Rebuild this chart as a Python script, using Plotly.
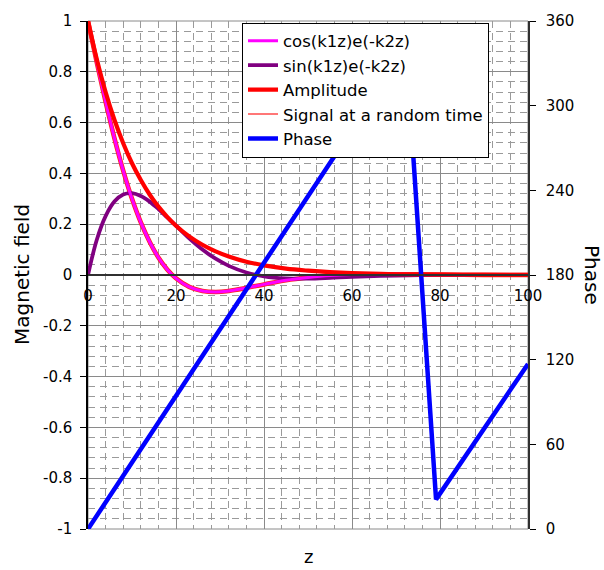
import plotly.graph_objects as go

# ---- data ----
z = [0, 2, 4, 6, 8, 10, 12, 14, 16, 18, 20, 23, 26, 29, 32, 36, 40, 45, 50, 55, 60, 70, 80, 90, 100]
cos_decay = [1.0, 0.837, 0.682, 0.539, 0.411, 0.300, 0.207, 0.131, 0.069, 0.022, -0.013, -0.047, -0.063,
             -0.067, -0.063, -0.051, -0.037, -0.021, -0.010, -0.002, 0.0015, 0.003, 0.0014, 0.0003, 0.0]
sin_decay = [0.0, 0.139, 0.232, 0.289, 0.317, 0.322, 0.311, 0.289, 0.260, 0.227, 0.194, 0.144, 0.100,
             0.064, 0.036, 0.010, -0.005, -0.013, -0.014, -0.011, -0.007, -0.002, 0.0004, 0.0006, 0.0]
amplitude = [1.0, 0.849, 0.720, 0.611, 0.519, 0.440, 0.374, 0.317, 0.269, 0.229, 0.194, 0.152, 0.119,
             0.093, 0.073, 0.052, 0.038, 0.025, 0.017, 0.011, 0.007, 0.003, 0.0014, 0.0006, 0.0003]
signal_random = [1.0, 0.837, 0.682, 0.539, 0.411, 0.300, 0.207, 0.131, 0.069, 0.022, -0.013, -0.047, -0.063,
                 -0.067, -0.063, -0.051, -0.037, -0.021, -0.010, -0.002, 0.0015, 0.003, 0.0014, 0.0003, 0.0]
phase_z = [0, 72.3, 79.1, 100]
phase = [0, 341, 21, 117]

x_ticks = [0, 20, 40, 60, 80, 100]
x_ticktext = ["0", "20", "40", "60", "80", "100"]
y_ticks = [-1, -0.8, -0.6, -0.4, -0.2, 0, 0.2, 0.4, 0.6, 0.8, 1]
y_ticktext = ["-1", "-0.8", "-0.6", "-0.4", "-0.2", "0", "0.2", "0.4", "0.6", "0.8", "1"]
y2_ticks = [0, 60, 120, 180, 240, 300, 360]
y2_ticktext = ["0", "60", "120", "180", "240", "300", "360"]

FONT = "DejaVu Sans, Liberation Sans, Arial, sans-serif"

fig = go.Figure()
# thin legend line for signal (drawn beneath)
fig.add_trace(go.Scatter(x=z, y=signal_random, mode="lines", name="Signal at a random time",
                         line=dict(color="#ff4a4a", width=1.5, shape="spline"), legendrank=4))
# wider red rendering of the same signal, visible as edges around the pink curve
fig.add_trace(go.Scatter(x=z, y=signal_random, mode="lines", showlegend=False, hoverinfo="skip",
                         line=dict(color="#ff2020", width=4.6, shape="spline")))
fig.add_trace(go.Scatter(x=z, y=sin_decay, mode="lines", name="sin(k1z)e(-k2z)",
                         line=dict(color="#800080", width=3.8, shape="spline"), legendrank=2))
fig.add_trace(go.Scatter(x=z, y=cos_decay, mode="lines", name="cos(k1z)e(-k2z)",
                         line=dict(color="#ff00ff", width=3, shape="spline"), legendrank=1))
fig.add_trace(go.Scatter(x=z, y=amplitude, mode="lines", name="Amplitude",
                         line=dict(color="#ff0000", width=4.2, shape="spline"), legendrank=3))
fig.add_trace(go.Scatter(x=phase_z, y=phase, mode="lines", name="Phase", yaxis="y2",
                         line=dict(color="#0000ff", width=4.5), legendrank=5))

fig.update_layout(
    width=604, height=570,
    margin=dict(l=88, r=76, t=16, b=41),
    plot_bgcolor="white", paper_bgcolor="white",
    font=dict(family=FONT, color="black", size=15),
    showlegend=True,
    legend=dict(x=0.35, y=0.997, xanchor="left", yanchor="top",
                bgcolor="white", bordercolor="black", borderwidth=1,
                font=dict(family=FONT, size=16.5, color="black"),
                tracegroupgap=0),
    xaxis=dict(range=[0, 100], tickmode="array", tickvals=x_ticks, ticktext=x_ticktext,
               anchor="free", position=0.5, showline=True, linecolor="#303030", linewidth=1.5,
               ticks="", showgrid=True, gridcolor="#8a8a8a", gridwidth=1, zeroline=False,
               ticklabelstandoff=7, tickfont=dict(family=FONT, size=15),
               minor=dict(dtick=4, tick0=0, showgrid=True, gridcolor="#9a9a9a",
                          griddash="7px,5px", gridwidth=1)),
    yaxis=dict(range=[-1, 1], tickmode="array", tickvals=y_ticks, ticktext=y_ticktext,
               showline=True, linecolor="black", linewidth=1.5, ticks="outside", ticklen=6,
               tickcolor="black", showgrid=True, gridcolor="#8a8a8a", gridwidth=1,
               zeroline=False, ticklabelstandoff=5, tickfont=dict(family=FONT, size=15),
               minor=dict(dtick=0.04, tick0=0, showgrid=True, gridcolor="#9a9a9a",
                          griddash="7px,5px", gridwidth=1)),
    yaxis2=dict(range=[0, 360], overlaying="y", side="right", tickmode="array",
                tickvals=y2_ticks, ticktext=y2_ticktext, showline=True, linecolor="#303030",
                linewidth=1.5, ticks="outside", ticklen=6, tickcolor="black", showgrid=False,
                zeroline=False, ticklabelstandoff=7, tickfont=dict(family=FONT, size=15)),
    shapes=[dict(type="rect", xref="paper", yref="paper", x0=0, x1=1, y0=0, y1=1,
                 line=dict(color="#8a8a8a", width=1), layer="below")],
    annotations=[
        dict(text="z", xref="paper", yref="paper", x=0.5, y=-0.078, showarrow=False,
             xanchor="center", yanchor="bottom", font=dict(family=FONT, size=18)),
        dict(text="Magnetic field", xref="paper", yref="paper", x=-0.15, y=0.5,
             showarrow=False, textangle=-90, xanchor="center", yanchor="middle",
             font=dict(family=FONT, size=20)),
        dict(text="Phase", xref="paper", yref="paper", x=1.1455, y=0.5,
             showarrow=False, textangle=90, xanchor="center", yanchor="middle",
             font=dict(family=FONT, size=20)),
    ],
)

fig.write_html("out.html")
